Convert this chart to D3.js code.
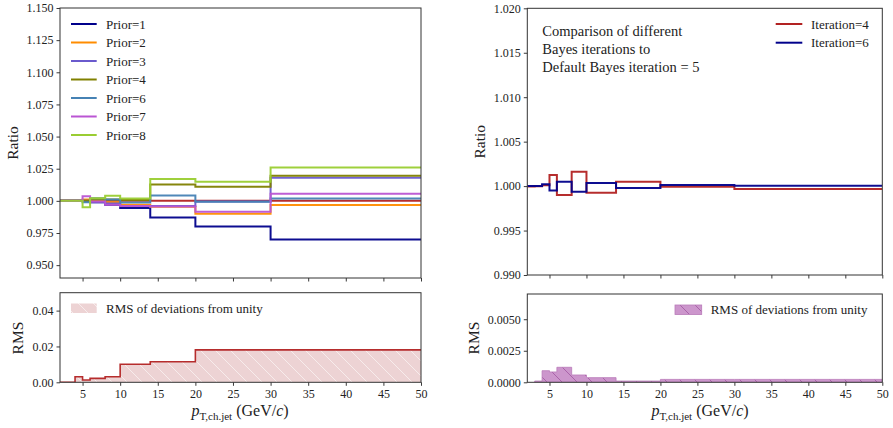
<!DOCTYPE html>
<html>
<head>
<meta charset="utf-8">
<script src="https://cdn.jsdelivr.net/npm/d3@7"></script>
<style>
  body { margin: 0; background: #fff; }
  svg text { font-family: "Liberation Serif", "DejaVu Serif", serif; fill: #222; }
</style>
</head>
<body>
<div class="svgContainer"></div>
<script>
var W = 893, H = 428;

// bin edges in pT (GeV/c)
var edges = [2, 3, 4, 5, 6, 8, 10, 14, 20, 30, 50];

// left: ratio of prior variations to default
var priorNames = ["Prior=1", "Prior=2", "Prior=3", "Prior=4", "Prior=6", "Prior=7", "Prior=8"];
var priorColors = ["#00008b", "#ff8c00", "#6a5acd", "#808000", "#4682b4", "#ba55d3", "#9acd32"];
var prior1 = [1.000, 1.000, 1.000, 1.000, 0.999, 0.997, 0.9945, 0.987, 0.980, 0.970];
var prior2 = [1.000, 1.000, 1.000, 1.001, 1.000, 0.999, 0.997, 0.9955, 0.990, 0.9967];
var prior3 = [1.000, 1.000, 1.000, 1.000, 0.999, 0.998, 0.996, 0.996, 0.9995, 1.018];
var prior4 = [1.000, 1.000, 1.000, 1.000, 1.001, 1.001, 1.0006, 1.0128, 1.011, 1.0195];
var prior6 = [1.000, 1.000, 1.000, 0.999, 1.002, 1.001, 0.9988, 1.0041, 0.9993, 1.0019];
var prior7 = [1.000, 1.000, 1.000, 1.0035, 0.9995, 0.997, 0.996, 0.9956, 0.9915, 1.0056];
var prior8 = [1.000, 1.000, 1.000, 0.995, 1.002, 1.004, 1.0019, 1.017, 1.0148, 1.026];
var priorDefault = [1, 1, 1, 1, 1, 1, 1, 1, 1, 1];
var priorSeries = [prior1, prior2, prior3, prior4, prior6, prior7, prior8];
var rmsPrior = [0, 0, 0.0031, 0.0013, 0.0022, 0.0031, 0.0101, 0.0115, 0.0181, 0.0181];

// right: ratio of iteration variations to default
var iterNames = ["Iteration=4", "Iteration=6"];
var iterColors = ["#b22222", "#00008b"];
var iter4 = [0.99995, 0.99998, 1.0001, 1.00125, 0.9990, 1.00162, 0.99926, 1.0005, 0.99993, 0.99967];
var iter6 = [1.0000, 1.0000, 1.0002, 0.9995, 1.0005, 0.99937, 1.00035, 0.99978, 1.00012, 1.00003];
var rmsIter = [0, 0.0001, 0.00092, 0.00082, 0.00119, 0.00058, 0.00037, 0.0001, 0.00023, 0.00023];

var xTicks = [5, 10, 15, 20, 25, 30, 35, 40, 45, 50];
var leftRatioTicks = [0.950, 0.975, 1.000, 1.025, 1.050, 1.075, 1.100, 1.125, 1.150];
var leftRmsTicks = [0.00, 0.02, 0.04];
var rightRatioTicks = [0.990, 0.995, 1.000, 1.005, 1.010, 1.015, 1.020];
var rightRmsTicks = [0.0000, 0.0025, 0.0050];

var svg = d3.select(".svgContainer").append("svg")
  .attr("width", W).attr("height", H);

var defs = svg.append("defs");
function hatch(id, color, bg) {
  var p = defs.append("pattern").attr("id", id)
    .attr("patternUnits", "userSpaceOnUse").attr("width", 15).attr("height", 15);
  p.append("rect").attr("width", 15).attr("height", 15).attr("fill", bg);
  p.append("path").attr("d", "M-1,-1 L16,16 M-1,14 L1,16 M14,-1 L16,1")
    .attr("stroke", color).attr("stroke-width", 0.8);
}
hatch("hatchRed", "rgba(255,255,255,0.7)", "#edd3d4");
hatch("hatchPurple", "#a055a0", "#cc96cc");

function stepPoints(vals) {
  var pts = vals.map(function (v, i) { return [edges[i], v]; });
  pts.push([edges[edges.length - 1], vals[vals.length - 1]]);
  return pts;
}

function makePanel(o) {
  var x = d3.scaleLinear().domain([2, 50]).range([o.x0, o.x1]);
  var y = d3.scaleLinear().domain(o.ydom).range([o.y1, o.y0]);
  var g = svg.append("g");
  g.append("defs").append("clipPath").attr("id", o.id)
    .append("rect").attr("x", o.x0).attr("y", o.y0)
    .attr("width", o.x1 - o.x0).attr("height", o.y1 - o.y0);

  var yAxis = g.append("g").attr("transform", "translate(" + o.x0 + ",0)")
    .call(d3.axisLeft(y).tickValues(o.yticks).tickFormat(d3.format(o.yfmt)).tickSize(3.5).tickPadding(3));
  var xAxis = g.append("g").attr("transform", "translate(0," + o.y1 + ")")
    .call(d3.axisBottom(x).tickValues(xTicks).tickFormat(o.xlabels ? d3.format("d") : "").tickSize(3.5).tickPadding(4));
  [yAxis, xAxis].forEach(function (a) {
    a.select(".domain").remove();
    a.selectAll("line").attr("stroke", "#222").attr("stroke-width", 0.9);
    a.selectAll("text").attr("font-size", 12).attr("fill", "#222")
      .style("font-family", "Liberation Serif, serif");
  });
  var plot = g.append("g").attr("clip-path", "url(#" + o.id + ")");
  return { x: x, y: y, g: g, plot: plot, o: o };
}

function frame(p) {
  var o = p.o;
  p.g.append("rect").attr("x", o.x0).attr("y", o.y0)
    .attr("width", o.x1 - o.x0).attr("height", o.y1 - o.y0)
    .attr("fill", "none").attr("stroke", "#333").attr("stroke-width", 1);
}

function drawStep(p, vals, color, w) {
  var line = d3.line().curve(d3.curveStepAfter)
    .x(function (d) { return p.x(d[0]); }).y(function (d) { return p.y(d[1]); });
  p.plot.append("path").attr("d", line(stepPoints(vals)))
    .attr("fill", "none").attr("stroke", color).attr("stroke-width", w || 2)
    .attr("stroke-opacity", 0.95);
}

function drawArea(p, vals, fill, startIdx, stroke) {
  var pts = stepPoints(vals).slice(startIdx);
  var area = d3.area().curve(d3.curveStepAfter)
    .x(function (d) { return p.x(d[0]); }).y0(p.y(0)).y1(function (d) { return p.y(d[1]); });
  p.plot.append("path").attr("d", area(pts)).attr("fill", fill)
    .attr("stroke", stroke || "none").attr("stroke-width", 0.8);
}

function yLabel(cx, cy, txt) {
  svg.append("text").attr("transform", "translate(" + cx + "," + cy + ") rotate(-90)")
    .attr("text-anchor", "middle").attr("dominant-baseline", "central")
    .attr("font-size", 15.5).text(txt);
}

function xLabel(cx, base) {
  var t = svg.append("text").attr("x", cx).attr("y", base).attr("text-anchor", "middle").attr("font-size", 16);
  t.append("tspan").attr("font-style", "italic").text("p");
  t.append("tspan").attr("font-size", 11).attr("dy", 3.5).text("T,ch.jet");
  t.append("tspan").attr("dy", -3.5).text(" (GeV/");
  t.append("tspan").attr("font-style", "italic").text("c");
  t.append("tspan").text(")");
}

// ---------- left column ----------
var LT = makePanel({ id: "cLT", x0: 60, x1: 421, y0: 8, y1: 278, ydom: [0.94, 1.15],
  yticks: leftRatioTicks, yfmt: ".3f", xlabels: false });
drawStep(LT, priorDefault, "#b22222", 2);
priorSeries.forEach(function (s, i) { drawStep(LT, s, priorColors[i], 2); });
frame(LT);

var LB = makePanel({ id: "cLB", x0: 60, x1: 421, y0: 292.7, y1: 382.3, ydom: [0, 0.05],
  yticks: leftRmsTicks, yfmt: ".2f", xlabels: true });
drawArea(LB, rmsPrior, "url(#hatchRed)", 0);
drawStep(LB, rmsPrior, "#b22222", 1.6);
frame(LB);

priorNames.forEach(function (n, i) {
  var yy = 24 + i * 18.5;
  svg.append("line").attr("x1", 71).attr("x2", 96.7).attr("y1", yy).attr("y2", yy)
    .attr("stroke", priorColors[i]).attr("stroke-width", 2);
  svg.append("text").attr("x", 106).attr("y", yy + 4.5).attr("font-size", 13).text(n);
});
svg.append("rect").attr("x", 71).attr("y", 303.5).attr("width", 25.7).attr("height", 9.5)
  .attr("fill", "url(#hatchRed)");
svg.append("text").attr("x", 106).attr("y", 312.5).attr("font-size", 13).text("RMS of deviations from unity");

yLabel(12.5, 143, "Ratio");
yLabel(17.5, 338, "RMS");
xLabel(240, 416);

// ---------- right column ----------
var RT = makePanel({ id: "cRT", x0: 527.3, x1: 882.3, y0: 8.3, y1: 275, ydom: [0.99, 1.02],
  yticks: rightRatioTicks, yfmt: ".3f", xlabels: false });
drawStep(RT, iter4, iterColors[0], 2);
drawStep(RT, iter6, iterColors[1], 2);
frame(RT);

var RB = makePanel({ id: "cRB", x0: 527.3, x1: 882.3, y0: 294, y1: 382.3, ydom: [0, 0.007],
  yticks: rightRmsTicks, yfmt: ".4f", xlabels: true });
drawArea(RB, rmsIter, "url(#hatchPurple)", 1, "#b97ab9");
frame(RB);

iterNames.forEach(function (n, i) {
  var yy = 24 + i * 18.7;
  svg.append("line").attr("x1", 775.7).attr("x2", 802.3).attr("y1", yy).attr("y2", yy)
    .attr("stroke", iterColors[i]).attr("stroke-width", 2);
  svg.append("text").attr("x", 811).attr("y", yy + 4.5).attr("font-size", 13).text(n);
});
["Comparison of different", "Bayes iterations to", "Default Bayes iteration = 5"].forEach(function (t, i) {
  svg.append("text").attr("x", 542.3).attr("y", 35.5 + i * 18).attr("font-size", 14.5).text(t);
});
svg.append("rect").attr("x", 675).attr("y", 305).attr("width", 26.7).attr("height", 9.5)
  .attr("fill", "url(#hatchPurple)").attr("stroke", "#b97ab9").attr("stroke-width", 0.8);
svg.append("text").attr("x", 710.7).attr("y", 314.3).attr("font-size", 13).text("RMS of deviations from unity");

yLabel(479.3, 141.7, "Ratio");
yLabel(473.3, 338, "RMS");
xLabel(700, 416);
</script>
</body>
</html>
